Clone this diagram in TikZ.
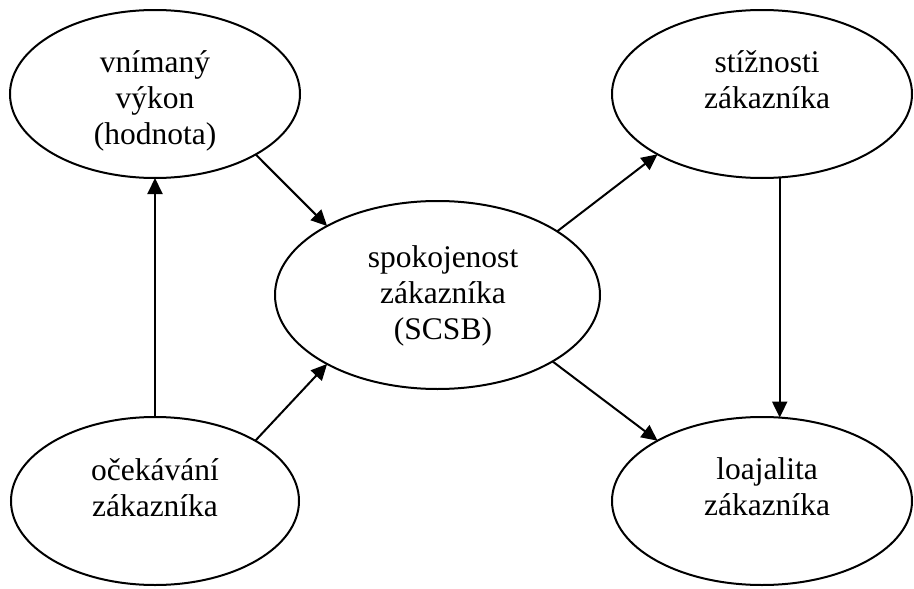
\documentclass[tikz,border=0pt]{standalone}
\usepackage{fontspec}
\setmainfont{Liberation Serif}
\usetikzlibrary{shapes.geometric,arrows.meta}

\tikzset{
  oval/.style={ellipse, draw, line width=2pt, inner sep=0pt, outer sep=0pt},
  caption/.style={anchor=base, inner sep=0pt,
    font=\fontsize{31.5}{36}\selectfont},
  link/.style={line width=2pt, -{Triangle[length=16pt,width=15pt]}}
}
\newcommand{\lines}[1]{\begin{tabular}[t]{@{}c@{}}#1\end{tabular}}

\begin{document}
\begin{tikzpicture}[x=1pt, y=-1pt]
  \useasboundingbox (0,0) rectangle (914,589);

  % ovals
  \node[oval, minimum width=290pt, minimum height=168pt] (vykon)    at (155,94)    {};
  \node[oval, minimum width=288pt, minimum height=168pt] (ocek)     at (155,501)   {};
  \node[oval, minimum width=325pt, minimum height=188pt] (spok)     at (437.5,295) {};
  \node[oval, minimum width=300pt, minimum height=168pt] (stiz)     at (762,94)    {};
  \node[oval, minimum width=300pt, minimum height=168pt] (loaj)     at (762,501)   {};

  % texts inside the ovals
  \node[caption] (tvykon) at (155,72)  {\lines{vnímaný\\výkon\\(hodnota)}};
  \node[caption] (tocek)  at (155,480) {\lines{očekávání\\zákazníka}};
  \node[caption] (tspok)  at (443,267) {\lines{spokojenost\\zákazníka\\(SCSB)}};
  \node[caption] (tstiz)  at (767,72)  {\lines{stížnosti\\zákazníka}};
  \node[caption] (tloaj)  at (767,479) {\lines{loajalita\\zákazníka}};

  % connectors
  \draw[link] (ocek.north) -- (vykon.south);
  \draw[link] (vykon.-31.4) -- (spok.148.9);
  \draw[link] (ocek.31.9) -- (spok.-148.4);
  \draw[link] (spok.28.5) -- (stiz.-150);
  \draw[link] (spok.-30.5) -- (loaj.150);
  \draw[link] (stiz.-78.4) -- (stiz.-78.4 |- loaj.78.4);
\end{tikzpicture}
\end{document}
